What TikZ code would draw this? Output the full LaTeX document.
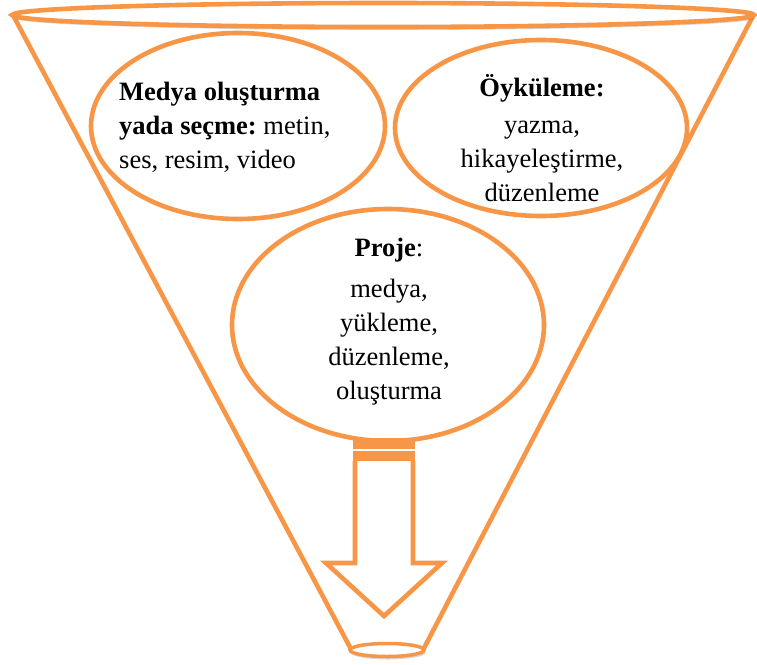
\documentclass[tikz,border=0pt]{standalone}
\usepackage{fontspec}
\setmainfont{Liberation Serif}
\usetikzlibrary{shapes.geometric,shadows}
\definecolor{funnelorange}{HTML}{F79646}
\tikzset{
  oline/.style={draw=funnelorange,line width=4.6pt},
  bubble/.style={ellipse,oline,fill=white,inner sep=0pt},
  softshadow/.style={drop shadow={shadow xshift=1.5pt,shadow yshift=-3pt,opacity=.25,fill=black!60}},
  txt/.style={font=\fontsize{26.5}{34}\selectfont,align=center,inner sep=0pt},
}
\begin{document}
\begin{tikzpicture}[x=1pt,y=-1pt]
\useasboundingbox (0,0) rectangle (757,664);
% funnel corners
\coordinate (tl) at (14,17);
\coordinate (tr) at (753,16);
\coordinate (bl) at (352,651);
\coordinate (br) at (423,650);
% funnel sides
\draw[oline,line cap=round] (tl) -- (bl);
\draw[oline,line cap=round] (tr) -- (br);
% bottom ellipse
\node[bubble,minimum width=74pt,minimum height=13pt,line width=3.5pt,softshadow] (bot) at (387,650) {};
% left and right bubbles
\node[bubble,minimum width=294pt,minimum height=186pt] (left) at (238,126) {};
\node[bubble,minimum width=292pt,minimum height=176pt] (right) at (541,128) {};
% top rim
\node[bubble,minimum width=742pt,minimum height=24pt,softshadow] (rim) at (383,15) {};
% centre bubble
\node[bubble,minimum width=312pt,minimum height=232pt] (mid) at (388,325) {};
% texts
\node[txt,align=left,anchor=north west] (lefttext) at (119,82)
  {\textbf{Medya oluşturma}\\ \textbf{yada seçme:}~metin,\\ ses, resim, video};
\node[txt] (righttext) at (542,138)
  {\textbf{Öyküleme:}\\[3pt] yazma,\\ hikayeleştirme,\\ düzenleme};
\node[txt] (midtext) at (389,322)
  {\textbf{Proje}:\\[7pt] medya,\\ yükleme,\\ düzenleme,\\ oluşturma};
% arrow
\fill[funnelorange] (353,438) rectangle (415,448.5);
\fill[funnelorange] (353,451) rectangle (415,461);
\node[inner sep=0pt,minimum size=0pt] (arrtop) at (384,461) {};
\coordinate (tip) at (384,616);
\draw[oline,line join=miter] (355,461) -- (355,563) -- (326,563) -- (tip) -- (442,563) -- (413,563) -- (413,461);
\end{tikzpicture}
\end{document}
